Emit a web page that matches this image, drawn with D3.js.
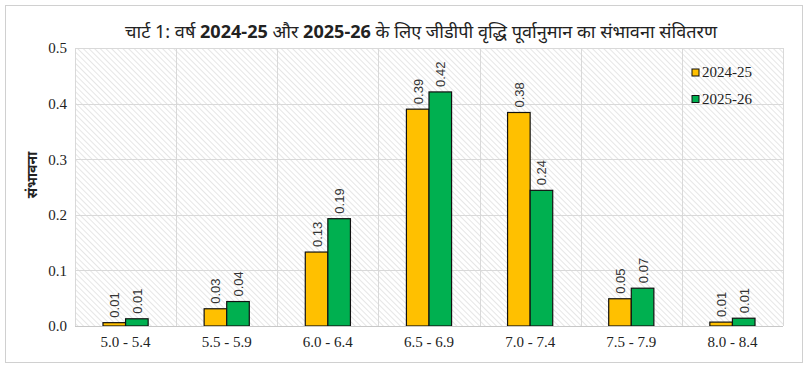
<!DOCTYPE html>
<html>
<head>
<meta charset="utf-8">
<script src="https://cdn.jsdelivr.net/npm/d3@7"></script>
<style>
  body { margin: 0; background: #fff; }
</style>
</head>
<body>
<svg id="chart" width="808" height="371"></svg>
<script>
// chart data
var categories = ["5.0 - 5.4", "5.5 - 5.9", "6.0 - 6.4", "6.5 - 6.9", "7.0 - 7.4", "7.5 - 7.9", "8.0 - 8.4"];
var seriesNames = ["2024-25", "2025-26"];
var values2425 = [0.006, 0.031, 0.133, 0.390, 0.384, 0.049, 0.007];
var values2526 = [0.013, 0.044, 0.193, 0.421, 0.244, 0.068, 0.014];
var yTicks = [0, 0.1, 0.2, 0.3, 0.4, 0.5];
var colors = ["#FFC000", "#00B050"];

// title pieces: [text, bold]
var titleParts = [
  ["चार्ट 1: वर्ष ", false], ["2024-25", true], [" और ", false], ["2025-26", true],
  [" के लिए जीडीपी वृद्धि पूर्वानुमान का संभावना संवितरण", false]
];
var yTitle = "संभावना";

var svg = d3.select("#chart");
var margin = {left: 75, right: 783, top: 48, bottom: 326};

// outer frame
svg.append("rect")
  .attr("x", 5.5).attr("y", 5.5)
  .attr("width", 797).attr("height", 357)
  .attr("fill", "#fff")
  .attr("stroke", "#d0d0d0");

// hatch pattern for plot background
var defs = svg.append("defs");
var pat = defs.append("pattern")
  .attr("id", "hatch")
  .attr("patternUnits", "userSpaceOnUse")
  .attr("width", 4).attr("height", 4)
  .attr("patternTransform", "rotate(-45)");
pat.append("rect").attr("width", 4).attr("height", 4).attr("fill", "#fff");
pat.append("line")
  .attr("x1", 0).attr("y1", 0).attr("x2", 0).attr("y2", 4)
  .attr("stroke", "#e0e0e0").attr("stroke-width", 1.6);

var x = d3.scaleBand()
  .domain(categories)
  .range([margin.left, margin.right]);

var xInner = d3.scaleBand()
  .domain(seriesNames)
  .range([0, x.bandwidth()])
  .paddingOuter(1.24);

var y = d3.scaleLinear()
  .domain([0, 0.5])
  .range([margin.bottom, margin.top]);

svg.append("rect")
  .attr("x", margin.left).attr("y", margin.top)
  .attr("width", margin.right - margin.left)
  .attr("height", margin.bottom - margin.top)
  .attr("fill", "url(#hatch)");

// horizontal gridlines
svg.append("g")
  .selectAll("line")
  .data(yTicks)
  .join("line")
  .attr("x1", margin.left).attr("x2", margin.right)
  .attr("y1", d => Math.round(y(d)) + 0.5)
  .attr("y2", d => Math.round(y(d)) + 0.5)
  .attr("stroke", "#d9d9d9");

// vertical gridlines at category boundaries
var bounds = categories.map(c => x(c)).concat([margin.right]);
svg.append("g")
  .selectAll("line")
  .data(bounds)
  .join("line")
  .attr("x1", d => Math.round(d) + 0.5).attr("x2", d => Math.round(d) + 0.5)
  .attr("y1", margin.top).attr("y2", margin.bottom)
  .attr("stroke", "#d9d9d9");

// y axis labels
var yAxis = svg.append("g")
  .attr("transform", "translate(" + (margin.left - 8) + ",0)")
  .call(d3.axisLeft(y).tickValues(yTicks).tickFormat(d3.format(".1f")).tickSize(0).tickPadding(0));
yAxis.select(".domain").remove();
yAxis.selectAll("text")
  .attr("font-family", "Liberation Serif, serif")
  .attr("font-size", 15)
  .attr("fill", "#222");

// x axis labels
var xAxis = svg.append("g")
  .attr("transform", "translate(0," + (margin.bottom + 10) + ")")
  .call(d3.axisBottom(x).tickSize(0).tickPadding(0));
xAxis.select(".domain").remove();
xAxis.selectAll("text")
  .attr("font-family", "Liberation Serif, serif")
  .attr("font-size", 15)
  .attr("fill", "#222");

// bars
var rows = categories.map((c, i) => ({cat: c, vals: [values2425[i], values2526[i]]}));
var groups = svg.append("g")
  .selectAll("g")
  .data(rows)
  .join("g")
  .attr("transform", d => "translate(" + x(d.cat) + ",0)");

groups.selectAll("rect")
  .data(d => d.vals.map((v, k) => ({v: v, s: seriesNames[k], k: k})))
  .join("rect")
  .attr("x", d => xInner(d.s))
  .attr("width", xInner.bandwidth())
  .attr("y", d => y(d.v))
  .attr("height", d => y(0) - y(d.v))
  .attr("fill", d => colors[d.k])
  .attr("stroke", "#111")
  .attr("stroke-width", 1.2);

// rotated value labels
groups.selectAll("text")
  .data(d => d.vals.map((v, k) => ({v: v, s: seriesNames[k], k: k})))
  .join("text")
  .attr("transform", d => "translate(" + (xInner(d.s) + xInner.bandwidth() / 2 + 5) + "," + (y(d.v) - 5) + ") rotate(-90)")
  .attr("font-family", "Liberation Sans, Arial, sans-serif")
  .attr("font-size", 13)
  .attr("fill", "#333")
  .text(d => d.v.toFixed(2));

// bottom axis line
svg.append("line")
  .attr("x1", margin.left).attr("x2", margin.right)
  .attr("y1", Math.round(y(0)) + 0.5).attr("y2", Math.round(y(0)) + 0.5)
  .attr("stroke", "#c8c8c8");

// title
var title = svg.append("text")
  .attr("x", 421).attr("y", 38)
  .attr("text-anchor", "middle")
  .attr("font-family", "Noto Sans, sans-serif")
  .attr("font-size", 18)
  .attr("fill", "#222")
  .attr("textLength", 592)
  .attr("lengthAdjust", "spacingAndGlyphs");
title.selectAll("tspan")
  .data(titleParts)
  .join("tspan")
  .attr("font-weight", d => d[1] ? "bold" : "normal")
  .text(d => d[0]);

// y title
svg.append("text")
  .attr("transform", "translate(37,175) rotate(-90)")
  .attr("text-anchor", "middle")
  .attr("font-family", "Noto Sans, sans-serif")
  .attr("font-weight", "bold")
  .attr("font-size", 14)
  .attr("fill", "#222")
  .text(yTitle);

// legend
var legend = svg.append("g")
  .selectAll("g")
  .data(seriesNames)
  .join("g")
  .attr("transform", (d, i) => "translate(692," + (69 + i * 26.5) + ")");
legend.append("rect")
  .attr("width", 7).attr("height", 7)
  .attr("fill", (d, i) => colors[i])
  .attr("stroke", "#111");
legend.append("text")
  .attr("x", 10).attr("y", 8)
  .attr("font-family", "Liberation Serif, serif")
  .attr("font-size", 15)
  .attr("fill", "#222")
  .text(d => d);
</script>
</body>
</html>
